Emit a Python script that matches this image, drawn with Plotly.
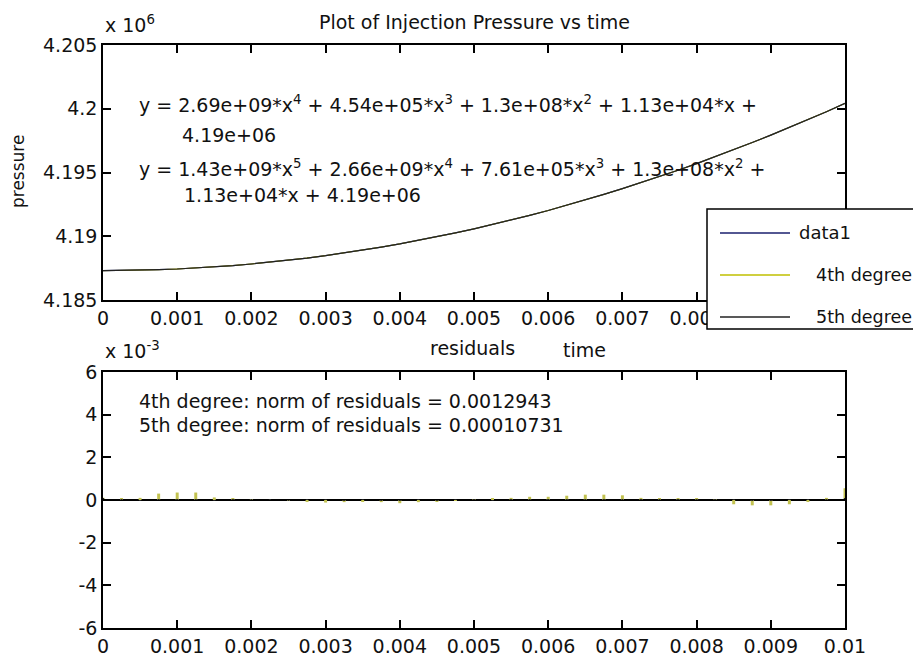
import plotly.graph_objects as go

# ---------------- data ----------------
time_s = [0.0, 0.00025, 0.0005, 0.00075, 0.001, 0.00125, 0.0015, 0.00175, 0.002, 0.00225,
          0.0025, 0.00275, 0.003, 0.00325, 0.0035, 0.00375, 0.004, 0.00425, 0.0045, 0.00475,
          0.005, 0.00525, 0.0055, 0.00575, 0.006, 0.00625, 0.0065, 0.00675, 0.007, 0.00725,
          0.0075, 0.00775, 0.008, 0.00825, 0.0085, 0.00875, 0.009, 0.00925, 0.0095, 0.00975, 0.01]

pressure = [4187300, 4187310, 4187335, 4187375, 4187430, 4187505, 4187595, 4187700, 4187825, 4187965,
            4188120, 4188290, 4188480, 4188690, 4188910, 4189150, 4189400, 4189670, 4189960, 4190260,
            4190580, 4190920, 4191270, 4191640, 4192020, 4192430, 4192840, 4193280, 4193730, 4194200,
            4194680, 4195180, 4195700, 4196230, 4196780, 4197350, 4197930, 4198530, 4199140, 4199770, 4200420]

# residuals, in units of 1e-3
res4_e3 = [0.10, 0.05, 0.10, 0.30, 0.35, 0.35, 0.12, 0.05, 0.02, 0.00,
           -0.04, -0.08, -0.12, -0.10, -0.08, -0.10, -0.15, -0.10, -0.08, -0.03,
           0.03, 0.05, 0.10, 0.15, 0.15, 0.20, 0.25, 0.25, 0.22, 0.10,
           0.08, 0.05, 0.05, 0.03, -0.20, -0.25, -0.25, -0.20, -0.08, 0.10, 0.55]
res5_e3 = [0.05, 0.03, -0.02, 0.03, 0.04, 0.03, -0.02, 0.03, 0.02, 0.03,
           -0.03, 0.02, 0.03, -0.02, 0.02, -0.03, -0.03, 0.02, -0.03, 0.02,
           0.02, -0.02, 0.02, 0.03, 0.04, 0.03, 0.03, 0.04, 0.03, 0.03,
           0.03, 0.03, 0.03, 0.02, 0.03, -0.03, -0.02, 0.02, 0.02, 0.03, 0.05]

x_ticks = [0.0, 0.001, 0.002, 0.003, 0.004, 0.005, 0.006, 0.007, 0.008, 0.009, 0.01]
x_tick_text = ["0", "0.001", "0.002", "0.003", "0.004", "0.005", "0.006", "0.007", "0.008", "0.009", "0.01"]
# the last two labels of the upper axis are hidden by the legend box
x_tick_text_top = ["0", "0.001", "0.002", "0.003", "0.004", "0.005", "0.006", "0.007", "0.008", "", ""]
p_ticks = [4.185e6, 4.19e6, 4.195e6, 4.2e6, 4.205e6]
p_tick_text = ["4.185", "4.19", "4.195", "4.2", "4.205"]
r_ticks = [-6, -4, -2, 0, 2, 4, 6]
r_tick_text = ["-6", "-4", "-2", "0", "2", "4", "6"]

# ---------------- layout geometry (reference pixels) ----------------
OFF = 8                      # page body margin of the browser
W, H = 921 - OFF, 659 - OFF  # figure size
L, R, T, B = 103, 845, 45, 628
PW, PH = R - L, B - T


def px(x):
    return (x - L) / PW


def py(y):
    return (B - y) / PH


FONT = "DejaVu Sans"
FS = 19
res4 = [v * 1e-3 for v in res4_e3]
res5 = [v * 1e-3 for v in res5_e3]

fig = go.Figure()
fig.add_trace(go.Scatter(x=time_s, y=pressure, mode="lines", line=dict(color="#1a1f6e", width=1.2),
                         name="data1", xaxis="x", yaxis="y"))
fig.add_trace(go.Scatter(x=time_s, y=pressure, mode="lines", line=dict(color="#bfbf00", width=1),
                         name="4th degree", xaxis="x", yaxis="y"))
fig.add_trace(go.Scatter(x=time_s, y=pressure, mode="lines", line=dict(color="#222222", width=1.2),
                         name="5th degree", xaxis="x", yaxis="y"))
fig.add_trace(go.Bar(x=time_s, y=res4, marker=dict(color="#c2c250", line=dict(width=0)), width=0.00004,
                     name="4th degree", xaxis="x2", yaxis="y2"))
fig.add_trace(go.Bar(x=time_s, y=res5, marker=dict(color="#222222", line=dict(width=0)), width=0.00003,
                     name="5th degree", xaxis="x2", yaxis="y2"))

axis_common = dict(showline=True, linecolor="black", linewidth=1.5, mirror="ticks", ticks="inside",
                   ticklen=8, tickcolor="black", tickwidth=1.5, showgrid=False,
                   tickfont=dict(family=FONT, size=FS, color="#111111"), automargin=False)

top_dom = [py(300), 1.0]
bot_dom = [0.0, py(372)]

fig.update_layout(
    width=W, height=H,
    margin=dict(l=L - OFF, r=W - (R - OFF), t=T - OFF, b=H - (B - OFF)),
    paper_bgcolor="white", plot_bgcolor="white",
    showlegend=False, barmode="overlay",
    xaxis=dict(domain=[0, 1], range=[0, 0.01], tickvals=x_ticks, ticktext=x_tick_text_top,
               anchor="y", zeroline=False, **axis_common),
    yaxis=dict(domain=top_dom, range=[4.185e6, 4.205e6], tickvals=p_ticks, ticktext=p_tick_text,
               anchor="x", zeroline=False, **axis_common),
    xaxis2=dict(domain=[0, 1], range=[0, 0.01], tickvals=x_ticks, ticktext=x_tick_text,
                anchor="y2", zeroline=False, **axis_common),
    yaxis2=dict(domain=bot_dom, range=[-0.006, 0.006], tickvals=[v * 1e-3 for v in r_ticks],
                ticktext=r_tick_text, anchor="x2", zeroline=True, zerolinecolor="black",
                zerolinewidth=1.5, **axis_common),
)


def ann(text, x, y, xanchor="left", size=FS, angle=0):
    return dict(text=text, x=px(x), y=py(y), xref="paper", yref="paper", xanchor=xanchor,
                yanchor="middle", showarrow=False, textangle=angle,
                font=dict(family=FONT, size=size, color="#111111"))


annotations = [
    ann("Plot of Injection Pressure vs time", 474, 22, "center", 19),
    ann("x 10<sup>6</sup>", 103, 24),
    ann("x 10<sup>-3</sup>", 103, 350),
    ann("pressure", 18, 172, "center", 17, -90),
    ann("time", 584, 350, "center"),
    ann("residuals", 472, 348, "center"),
    ann("y = 2.69e+09*x<sup>4</sup> + 4.54e+05*x<sup>3</sup> + 1.3e+08*x<sup>2</sup> + 1.13e+04*x +", 137, 104, size=19),
    ann("4.19e+06", 180, 135, size=19),
    ann("y = 1.43e+09*x<sup>5</sup> + 2.66e+09*x<sup>4</sup> + 7.61e+05*x<sup>3</sup> + 1.3e+08*x<sup>2</sup> +", 137, 168, size=19),
    ann("1.13e+04*x + 4.19e+06", 182, 195, size=19),
    ann("4th degree: norm of residuals = 0.0012943", 137, 401),
    ann("5th degree: norm of residuals = 0.00010731", 137, 425),
    ann("data1", 797, 233, size=18),
    ann("4th degree", 814, 275, size=17.5),
    ann("5th degree", 814, 317, size=17.5),
]

shapes = [
    dict(type="rect", xref="paper", yref="paper", x0=px(707), x1=px(935), y0=py(329), y1=py(209),
         fillcolor="white", line=dict(color="black", width=1.5), layer="above"),
    dict(type="line", xref="paper", yref="paper", x0=px(720), x1=px(790), y0=py(233), y1=py(233),
         line=dict(color="#1a1f6e", width=1.5), layer="above"),
    dict(type="line", xref="paper", yref="paper", x0=px(720), x1=px(790), y0=py(275), y1=py(275),
         line=dict(color="#bfbf00", width=1.5), layer="above"),
    dict(type="line", xref="paper", yref="paper", x0=px(720), x1=px(790), y0=py(317), y1=py(317),
         line=dict(color="#222222", width=1.5), layer="above"),
]

fig.update_layout(annotations=annotations, shapes=shapes)
fig.write_html("out.html")
